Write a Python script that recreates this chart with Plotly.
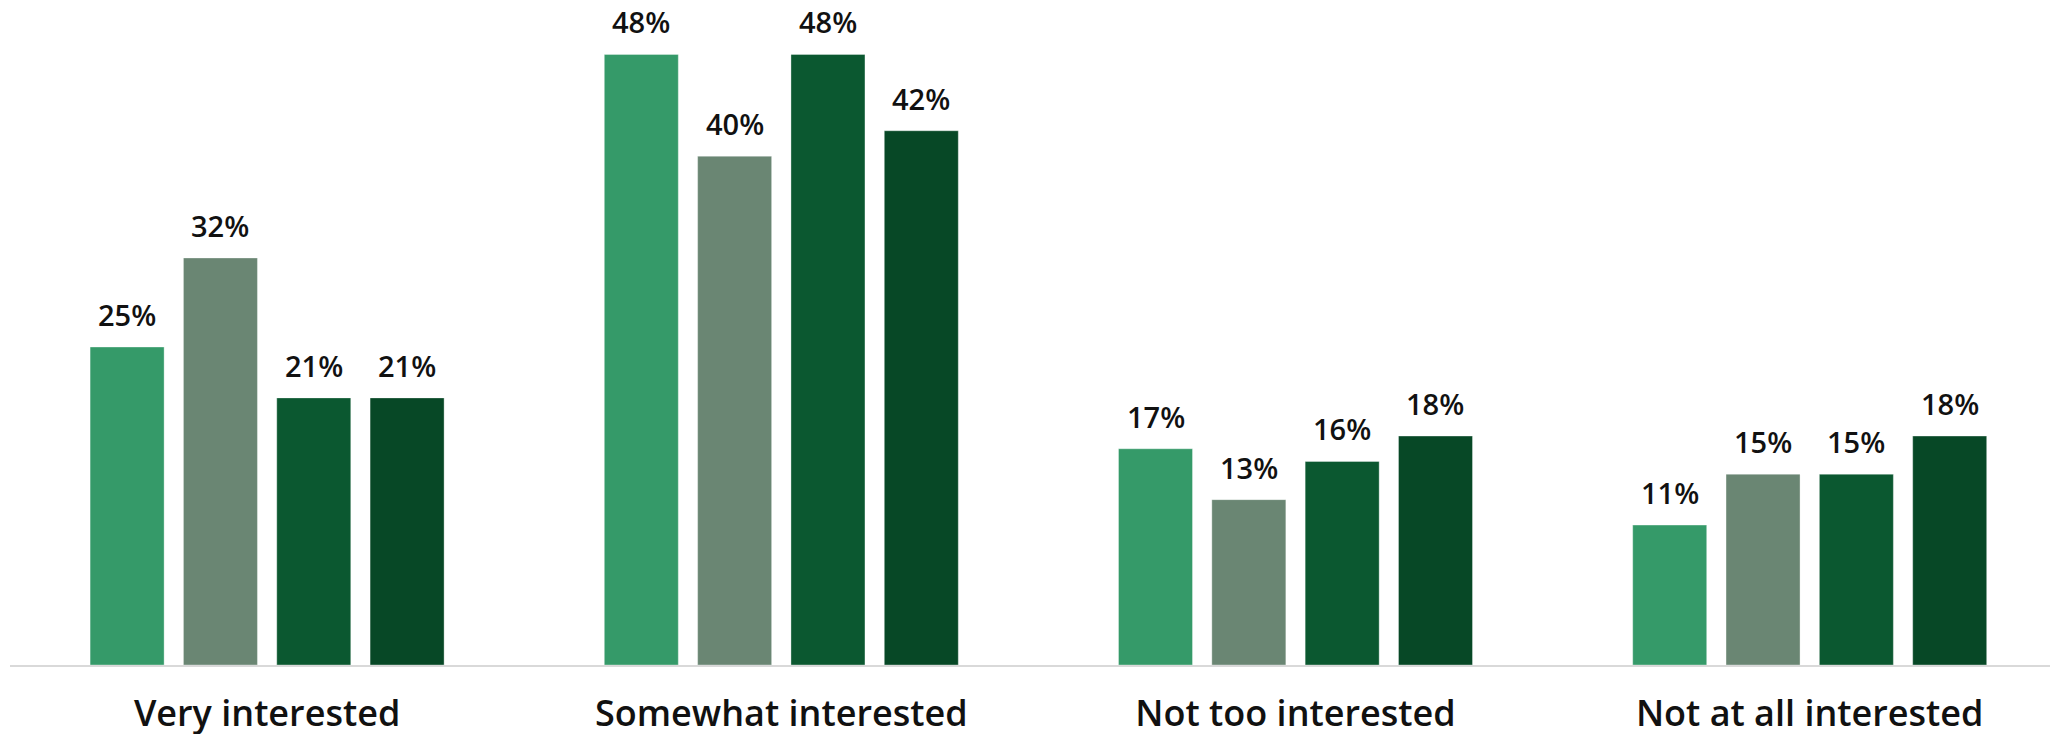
import plotly.graph_objects as go

categories = ["Very interested", "Somewhat interested", "Not too interested", "Not at all interested"]
series_names = ["Group 1", "Group 2", "Group 3", "Group 4"]
values_1 = [25, 48, 17, 11]
values_2 = [32, 40, 13, 15]
values_3 = [21, 48, 16, 15]
values_4 = [21, 42, 18, 18]
colors = ["#359A69", "#6A8673", "#0B5830", "#074826"]

all_values = [values_1, values_2, values_3, values_4]

fig = go.Figure()
for name, vals, col in zip(series_names, all_values, colors):
    fig.add_trace(go.Bar(
        x=categories, y=vals, name=name,
        marker=dict(color=col, line=dict(color="rgba(255,255,255,0.35)", width=1)),
        hoverinfo="skip",
    ))

W, H = 2058, 734
ml, mr, mt, mb = 2, 0, 0, 77
plot_w = W - ml - mr
cat_px = 514.2
x_range = [-0.5, -0.5 + plot_w / cat_px]
bargap = 0.274
slot_px = cat_px * (1 - bargap) / 4

annotations = []
for i, vals in enumerate(all_values):
    for cat, v in zip(categories, vals):
        annotations.append(dict(
            x=cat, y=v, text=f"{v}%", showarrow=False,
            xanchor="center", yanchor="bottom",
            xshift=(i - 1.5) * slot_px, yshift=11,
            font=dict(family="Open Sans", size=29, color="#111111", weight=600),
        ))

fig.update_layout(
    width=W, height=H,
    margin=dict(l=ml, r=mr, t=mt, b=mb),
    barmode="group", bargap=bargap, bargroupgap=0.207,
    plot_bgcolor="white", paper_bgcolor="white",
    showlegend=False,
    annotations=annotations,
    xaxis=dict(
        range=x_range, showline=True, linecolor="#D9D9D9", linewidth=2,
        showgrid=False, ticks="outside", ticklen=16, tickcolor="rgba(0,0,0,0)",
        tickfont=dict(family="Open Sans", size=36, color="#111111", weight=600),
    ),
    yaxis=dict(range=[0, 51.65], visible=False, showgrid=False),
)

fig.write_html("out.html")
